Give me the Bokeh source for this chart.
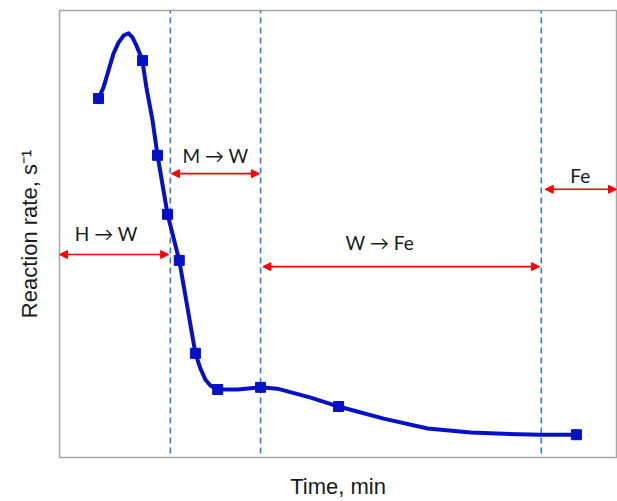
from bokeh.plotting import figure
from bokeh.models import Range1d, Arrow, NormalHead, Label, FixedTicker
from bokeh.embed import file_html
from bokeh.resources import INLINE

# ---- data (time and rate in arbitrary units) ----
curve_t = [0.70, 0.79, 0.88, 0.97, 1.06, 1.15, 1.24, 1.31, 1.38, 1.44, 1.49, 1.56, 1.67,
           1.76, 1.94, 2.15, 2.44, 2.53, 2.62, 2.71, 2.84, 3.20, 3.61, 3.91, 4.51, 5.01,
           5.82, 6.61, 7.38, 7.97, 8.64, 9.28]
curve_rate = [8.03, 8.28, 8.66, 9.04, 9.28, 9.44, 9.49, 9.40, 9.22, 9.04, 8.86, 8.28, 7.54,
              6.76, 5.44, 4.41, 2.33, 1.99, 1.74, 1.61, 1.52, 1.52, 1.57, 1.54, 1.34, 1.14,
              0.87, 0.65, 0.56, 0.53, 0.51, 0.51]

marker_t = [0.70, 1.49, 1.76, 1.94, 2.15, 2.44, 2.84, 3.61, 5.01, 9.28]
marker_rate = [8.03, 8.88, 6.76, 5.44, 4.41, 2.33, 1.52, 1.57, 1.14, 0.51]

boundary_t = [1.99, 3.61, 8.65]

phase_labels = ["H \u2192 W", "M \u2192 W", "W \u2192 Fe", "Fe"]
phase_start = [0.00, 2.01, 3.65, 8.72]
phase_end = [1.96, 3.59, 8.62, 10.0]
phase_arrow_level = [4.54, 6.35, 4.27, 6.00]
phase_label_t = [0.84, 2.80, 5.75, 9.35]
phase_label_level = [5.01, 6.76, 4.81, 6.31]

x_title = "Time, min"
y_title = "Reaction rate, s\u207b\u00b9"

# ---- figure ----
p = figure(width=617, height=501, x_range=Range1d(0, 10), y_range=Range1d(0, 10),
           output_backend="svg", toolbar_location=None,
           min_border_left=59, min_border_right=1, min_border_top=10, min_border_bottom=44)
p.grid.visible = False
p.background_fill_color = "white"
p.border_fill_color = "white"
p.outline_line_color = "#a6a6a6"
p.outline_line_width = 1.5

for ax in (p.xaxis[0], p.yaxis[0]):
    ax.ticker = FixedTicker(ticks=[])
    ax.major_tick_line_color = None
    ax.minor_tick_line_color = None
    ax.axis_line_color = None
    ax.major_label_text_font_size = "0px"
    ax.major_label_standoff = 0
    ax.major_tick_out = 0
    ax.minor_tick_out = 0
    ax.axis_label_text_font = "Liberation Sans"
    ax.axis_label_text_font_size = "22px"
    ax.axis_label_text_font_style = "normal"
    ax.axis_label_text_color = "#1a1a1a"

p.xaxis.axis_label = x_title
p.yaxis.axis_label = y_title
p.xaxis.axis_label_standoff = 16
p.yaxis.axis_label_standoff = 18

# phase boundaries
p.segment(x0=boundary_t, y0=[0.09] * len(boundary_t), x1=boundary_t, y1=[10] * len(boundary_t),
          line_color="#3a78d0", line_width=1.6, line_dash="6 4")

# curve and markers
p.line(curve_t, curve_rate, line_color="#0510c8", line_width=4, line_join="round", line_cap="round")
p.scatter(marker_t, marker_rate, marker="square", size=10, fill_color="#0510c8", line_color="#0510c8")

# phase arrows and labels
for lab, s, e, lev, lt, ll in zip(phase_labels, phase_start, phase_end, phase_arrow_level,
                                  phase_label_t, phase_label_level):
    p.add_layout(Arrow(x_start=s, y_start=lev, x_end=e, y_end=lev,
                       line_color="#ff0000", line_width=1.6,
                       start=NormalHead(size=8, fill_color="#ff0000", line_color="#ff0000", line_width=1),
                       end=NormalHead(size=8, fill_color="#ff0000", line_color="#ff0000", line_width=1)))
    p.add_layout(Label(x=lt, y=ll, text=lab, text_align="center", text_baseline="middle",
                       text_font="Lato", text_font_size="19px", text_color="#1a1a1a"))

open("out.html", "w").write(file_html(p, INLINE))
